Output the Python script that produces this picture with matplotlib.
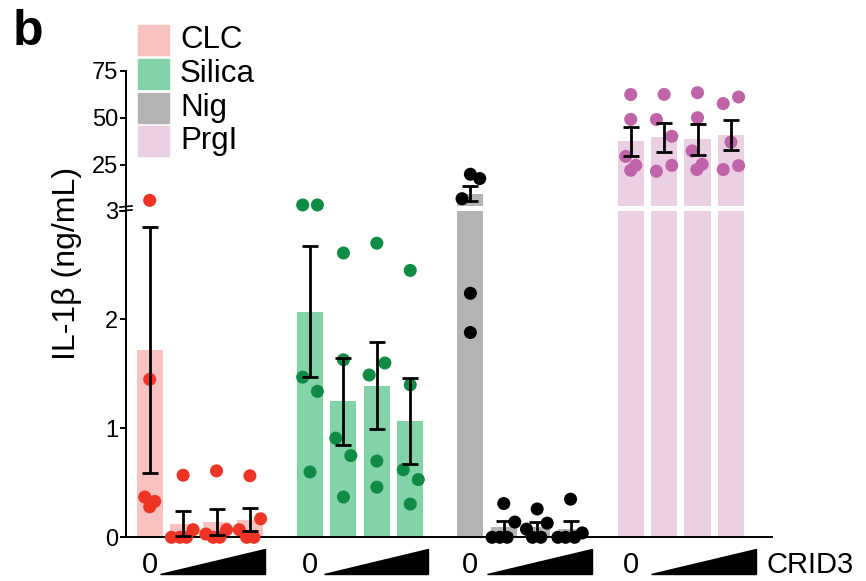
import matplotlib

matplotlib.use("Agg")
import matplotlib.pyplot as plt
from matplotlib.lines import Line2D
from matplotlib.patches import Polygon, Rectangle

plt.rcParams["font.family"] = ["Liberation Sans", "DejaVu Sans"]

# ---- data (ng/mL), 4 CRID3 doses per stimulus ----
groups = ["CLC", "Silica", "Nig", "PrgI"]
bar_colors = ["#f8c2c0", "#83d3a9", "#b3b3b3", "#ebd0e3"]
dot_colors = ["#ee3424", "#0e8c44", "#000000", "#c163a9"]

clc_mean = [1.72, 0.125, 0.14, 0.16]
clc_sem = [1.13, 0.115, 0.12, 0.105]
clc_pts = [[6.0, 1.45, 0.37, 0.33, 0.28],
           [0.57, 0.0, 0.0, 0.0, 0.07],
           [0.61, 0.03, 0.0, 0.0, 0.07],
           [0.565, 0.07, 0.0, 0.0, 0.17]]
clc_jit = [[0, 0, -0.15, 0.15, 0],
           [0, -0.35, -0.1, 0.1, 0.3],
           [0, -0.32, -0.1, 0.1, 0.3],
           [0, -0.32, -0.1, 0.12, 0.32]]

silica_mean = [2.07, 1.25, 1.39, 1.065]
silica_sem = [0.60, 0.40, 0.40, 0.395]
silica_pts = [[3.55, 3.55, 1.47, 1.34, 0.60],
              [2.61, 1.63, 0.91, 0.75, 0.37],
              [2.70, 1.60, 1.49, 0.70, 0.46],
              [2.45, 1.40, 0.62, 0.53, 0.305]]
silica_jit = [[-0.22, 0.22, -0.22, 0.22, 0],
              [0, 0, -0.23, 0.22, 0],
              [0, 0.24, -0.23, 0, 0],
              [0, 0, -0.21, 0.24, 0]]

nig_mean = [9.6, 0.09, 0.09, 0.08]
nig_sem = [4.0, 0.06, 0.05, 0.07]
nig_pts = [[19.9, 17.6, 6.9, 2.24, 1.88],
           [0.31, 0.14, 0.0, 0.0, 0.0],
           [0.26, 0.13, 0.075, 0.0, 0.0],
           [0.35, 0.04, 0.0, 0.0, 0.0]]
nig_jit = [[0, 0.28, -0.25, 0, 0],
           [0, 0.33, -0.35, -0.12, 0.1],
           [0, 0.3, -0.32, -0.14, 0.11],
           [0, 0.35, -0.38, -0.15, 0.12]]

prgi_mean = [37.4, 39.5, 38.5, 40.6]
prgi_sem = [7.9, 7.75, 8.1, 8.0]
prgi_pts = [[62.3, 49.1, 29.4, 24.6, 22.0],
            [62.4, 49.0, 40.1, 24.6, 21.5],
            [63.3, 50.0, 32.3, 25.2, 22.4],
            [57.5, 61.0, 37.0, 24.5, 22.4]]
prgi_jit = [[0, 0, -0.15, 0.15, 0],
            [0, -0.23, 0.23, 0.23, -0.23],
            [0, 0, -0.16, 0.14, -0.02],
            [-0.23, 0.23, 0, 0.23, -0.23]]

means = [clc_mean, silica_mean, nig_mean, prgi_mean]
sems = [clc_sem, silica_sem, nig_sem, prgi_sem]
points = [clc_pts, silica_pts, nig_pts, prgi_pts]
jitter = [clc_jit, silica_jit, nig_jit, prgi_jit]

low_ticks = [0, 1, 2, 3]
high_ticks = [25, 50, 75]
BREAK = 3

GROUP_STEP = 4.8
BAR_W = 0.78

W, H = 866, 581
fig = plt.figure(figsize=(W / 100, H / 100), dpi=100)


def fx(px):
    return px / W


def fy(py):
    return 1 - py / H


ax_lo = fig.add_axes([fx(126), fy(537.3), fx(772) - fx(126), fy(210.5) - fy(537.3)])
ax_hi = fig.add_axes([fx(126), fy(206), fx(772) - fx(126), fy(70.7) - fy(206)], sharex=ax_lo)

for ax in (ax_lo, ax_hi):
    for s in ("top", "right"):
        ax.spines[s].set_visible(False)
    ax.spines["left"].set_linewidth(1.4)
    ax.tick_params(axis="y", direction="out", length=4, width=1.4, labelsize=17, pad=1.5)
    ax.patch.set_alpha(0)
ax_hi.spines["bottom"].set_visible(False)
ax_lo.spines["bottom"].set_linewidth(1.4)
ax_hi.tick_params(axis="x", bottom=False, labelbottom=False)

ax_lo.set_xlim(-0.71, 18.63)
ax_lo.set_ylim(0, BREAK)
ax_hi.set_ylim(BREAK, 75)
ax_lo.set_yticks(low_ticks)
ax_hi.set_yticks(high_ticks)

for g in range(len(groups)):
    xs = [g * GROUP_STEP + i for i in range(4)]
    for ax in (ax_lo, ax_hi):
        ax.bar(xs, means[g], width=BAR_W, color=bar_colors[g], zorder=1)
    for i, x in enumerate(xs):
        ax = ax_hi if means[g][i] > BREAK else ax_lo
        ax.errorbar(x, means[g][i], yerr=sems[g][i], fmt="none", ecolor="black",
                    elinewidth=2.0, capsize=6, capthick=2.0, zorder=4, clip_on=False)
        for v, j in zip(points[g][i], jitter[g][i]):
            ax = ax_hi if v > BREAK else ax_lo
            ax.scatter(x + j, v, s=88, color=dot_colors[g], edgecolors="none",
                       zorder=3, clip_on=False)
    # dose wedge under the CRID3-treated bars
    x0 = xs[0] + 0.31 + 0.1 * g
    ax_lo.add_patch(Polygon([[x0, -0.1123], [x0 + 3.13, -0.1123], [x0 + 3.13, -0.0367]],
                            closed=True, color="black", transform=ax_lo.get_xaxis_transform(),
                            clip_on=False))
    ax_lo.text(xs[0], -0.1092, "0", transform=ax_lo.get_xaxis_transform(),
               ha="center", va="baseline", fontsize=21)

ax_lo.set_xticks([])
fig.text(fx(766), fy(573), "CRID3", ha="left", va="baseline", fontsize=21)

# axis break on the left spine
sx = fx(126)
fig.add_artist(Line2D([sx, sx], [fy(210.5), fy(206)], color="black", lw=1.4))
for py in (206.5, 210.5):
    fig.add_artist(Line2D([fx(120), fx(132)], [fy(py + 0.6), fy(py - 0.6)],
                          color="black", lw=1.2))

fig.text(fx(67), fy(263), "IL-1\u03b2 (ng/mL)", rotation=90, ha="center", va="center",
         fontsize=23)
fig.text(fx(13), fy(45), "b", ha="left", va="baseline", fontsize=36, fontweight="bold")

# legend as stacked swatches
leg_top = [25, 59, 93, 126]
for g, name in enumerate(groups):
    fig.add_artist(Rectangle((fx(138), fy(leg_top[g] + 30)), fx(31), 30 / H,
                             color=bar_colors[g], transform=fig.transFigure))
    fig.text(fx(180), fy(leg_top[g] + 15), name, ha="left", va="center", fontsize=22.5)

fig.savefig("out.png", dpi=100)
